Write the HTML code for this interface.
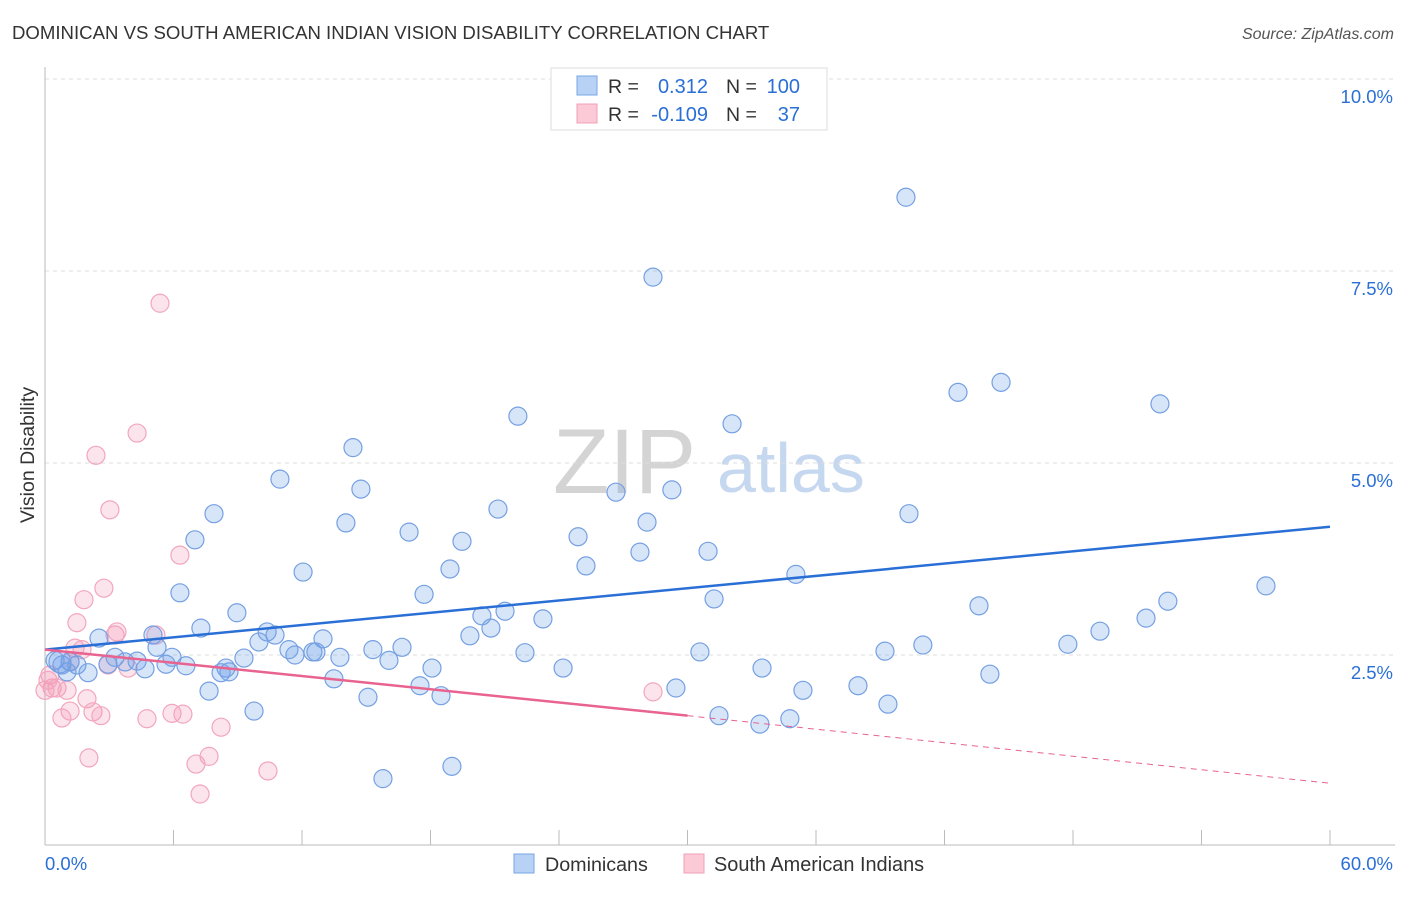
<!DOCTYPE html>
<html><head><meta charset="utf-8"><style>
body{margin:0;background:#fff;font-family:"Liberation Sans",sans-serif}
svg text{font-family:"Liberation Sans",sans-serif}
</style></head><body>
<svg id="chart" width="1406" height="892" xmlns="http://www.w3.org/2000/svg">
<text x="12" y="39" font-size="18.6" fill="#333">DOMINICAN VS SOUTH AMERICAN INDIAN VISION DISABILITY CORRELATION CHART</text>
<text x="1394" y="39" font-size="16" fill="#555" font-style="italic" text-anchor="end">Source: ZipAtlas.com</text>
<g>
<text x="553" y="493" font-size="92" fill="#d4d4d4" font-family="Liberation Serif,serif">ZIP</text>
<text x="717" y="492" font-size="70" fill="#c6d8f0">atlas</text>
</g>
<g id="grid"></g>
<g id="axes"></g>
<g id="pts"></g>
<g id="trend"></g>
<text transform="translate(34,455) rotate(-90)" font-size="19.5" fill="#333" text-anchor="middle">Vision Disability</text>
<g>
<rect x="551" y="68" width="276" height="62" fill="#fff" stroke="#ddd"/>
<rect x="577" y="76" width="20" height="19" fill="#b8d2f5" stroke="#7aa6e6"/>
<rect x="577" y="104" width="20" height="19" fill="#fcc9d6" stroke="#f0a0b8"/>
<text x="608" y="93" font-size="19.5" fill="#333">R =</text><text x="708" y="93" font-size="20" fill="#2a6fd6" text-anchor="end">0.312</text>
<text x="726" y="93" font-size="19.5" fill="#333">N =</text><text x="800" y="93" font-size="20" fill="#2a6fd6" text-anchor="end">100</text>
<text x="608" y="121" font-size="19.5" fill="#333">R =</text><text x="708" y="121" font-size="20" fill="#2a6fd6" text-anchor="end">-0.109</text>
<text x="726" y="121" font-size="19.5" fill="#333">N =</text><text x="800" y="121" font-size="20" fill="#2a6fd6" text-anchor="end">37</text>
</g>
<g>
<rect x="514" y="854" width="20" height="19" fill="#b8d2f5" stroke="#7aa6e6"/>
<text x="545" y="871" font-size="19.7" fill="#333">Dominicans</text>
<rect x="684" y="854" width="20" height="19" fill="#fcc9d6" stroke="#f0a0b8"/>
<text x="714" y="871" font-size="19.9" fill="#333">South American Indians</text>
</g>
</svg>
<script>
const blueX=[40.20,28.39,44.64,42.63,52.06,22.08,32.08,14.38,10.97,14.75,26.66,29.27,21.15,7.89,40.34,14.05,28.11,17.00,24.89,7.00,19.47,27.78,30.96,18.91,25.26,12.05,35.06,6.30,17.70,57.01,52.43,31.24,43.61,8.96,21.48,20.40,51.41,23.25,7.28,20.82,49.26,5.04,2.52,19.84,10.37,10.74,12.98,47.76,40.99,9.99,16.67,11.39,12.51,11.67,15.31,5.23,22.41,30.58,39.22,12.65,5.93,13.77,3.27,9.29,16.06,4.30,3.74,0.47,1.17,5.65,6.58,1.49,2.94,8.45,4.67,18.07,24.19,33.48,8.22,8.59,2.01,1.03,0.79,44.12,13.49,17.51,29.46,37.96,7.66,35.39,18.49,15.08,39.36,9.76,31.47,33.38,34.78,15.78,19.00,0.70];
const blueY=[8.46,7.42,6.05,5.92,5.77,5.61,5.51,5.20,4.79,4.66,4.62,4.65,4.40,4.34,4.34,4.22,4.23,4.10,4.04,4.00,3.98,3.84,3.85,3.62,3.66,3.58,3.55,3.31,3.29,3.40,3.20,3.23,3.14,3.05,3.07,3.01,2.98,2.97,2.85,2.85,2.81,2.76,2.72,2.75,2.80,2.76,2.71,2.64,2.63,2.67,2.60,2.57,2.54,2.50,2.57,2.60,2.53,2.54,2.55,2.54,2.47,2.47,2.47,2.46,2.43,2.42,2.41,2.43,2.41,2.38,2.36,2.37,2.38,2.33,2.32,2.33,2.33,2.33,2.27,2.28,2.27,2.28,2.37,2.25,2.19,2.10,2.07,2.10,2.03,2.04,1.97,1.95,1.86,1.77,1.71,1.60,1.67,0.89,1.05,2.41];
const pinkX=[5.37,4.30,2.38,3.03,6.30,2.75,1.82,1.49,3.27,3.36,5.18,1.40,1.73,2.94,3.88,1.17,0.23,0.33,0.56,1.03,1.96,1.17,2.24,2.61,0.79,4.76,5.93,6.44,8.22,28.39,7.66,7.05,10.41,2.05,7.24,0.00,0.14];
const pinkY=[7.08,5.39,5.10,4.39,3.80,3.37,3.22,2.92,2.76,2.80,2.76,2.59,2.57,2.37,2.33,2.42,2.24,2.07,2.07,2.04,1.93,1.77,1.76,1.71,1.68,1.67,1.74,1.73,1.56,2.02,1.18,1.08,0.99,1.16,0.69,2.04,2.17];
const blueTrendX=[0,60], blueTrendY=[2.57,4.17];
const pinkTrendX=[0,30,60], pinkTrendY=[2.57,1.71,0.83];
const yTicks=[2.5,5.0,7.5,10.0];
const yTickLabels=["2.5%","5.0%","7.5%","10.0%"];
const xTicks=[0,6,12,18,24,30,36,42,48,54,60];

const NS="http://www.w3.org/2000/svg";
const X=v=>45+v*1285/60, Y=v=>847-v*76.8;
function mk(parent,tag,attrs){const e=document.createElementNS(NS,tag);for(const k in attrs)e.setAttribute(k,attrs[k]);document.getElementById(parent).appendChild(e);return e;}
yTicks.forEach((t,i)=>{
 const g=mk('grid','line',{x1:45,x2:1395,y1:Y(t),y2:Y(t),stroke:'#ddd','stroke-dasharray':'4,4'});
 
 
 const l=mk('grid','text',{x:1393,y:Y(t)+24,'font-size':18.5,fill:'#2a6fd6','text-anchor':'end'});
 l.textContent=yTickLabels[i];
 
 
});
const ya=mk('axes','line',{x1:45,x2:45,y1:67,y2:845,stroke:'#bbb'});


const xa=mk('axes','line',{x1:45,x2:1395,y1:845,y2:845,stroke:'#bbb'});


xTicks.forEach(t=>{
 const k=mk('axes','line',{x1:X(t),x2:X(t),y1:830,y2:845,stroke:'#bbb'});
 
 
});
const xl0=mk('axes','text',{x:45,y:870,'font-size':18.5,fill:'#2a6fd6'});xl0.textContent='0.0%';


const xl1=mk('axes','text',{x:1393,y:870,'font-size':18.5,fill:'#2a6fd6','text-anchor':'end'});xl1.textContent='60.0%';


pinkX.forEach((v,i)=>{
 const c=mk('pts','circle',{cx:X(v),cy:Y(pinkY[i]),r:9,fill:'rgba(245,150,180,0.26)',stroke:'#f2a6bd','stroke-width':1.2});
 
 
});
blueX.forEach((v,i)=>{
 const c=mk('pts','circle',{cx:X(v),cy:Y(blueY[i]),r:i==blueX.length-1?11:9,fill:'rgba(110,160,235,0.28)',stroke:'#75a0e2','stroke-width':1.2});
 
 
});
const bt=mk('trend','line',{x1:X(blueTrendX[0]),y1:Y(blueTrendY[0]),x2:X(blueTrendX[1]),y2:Y(blueTrendY[1]),stroke:'#2a6fd6','stroke-width':2.5});


const pt=mk('trend','line',{x1:X(pinkTrendX[0]),y1:Y(pinkTrendY[0]),x2:X(pinkTrendX[1]),y2:Y(pinkTrendY[1]),stroke:'#e8638f','stroke-width':2.5});


const pd=mk('trend','line',{x1:X(pinkTrendX[1]),y1:Y(pinkTrendY[1]),x2:X(pinkTrendX[2]),y2:Y(pinkTrendY[2]),stroke:'#e8638f','stroke-width':1,'stroke-dasharray':'6,5'});


</script>
</body></html>
